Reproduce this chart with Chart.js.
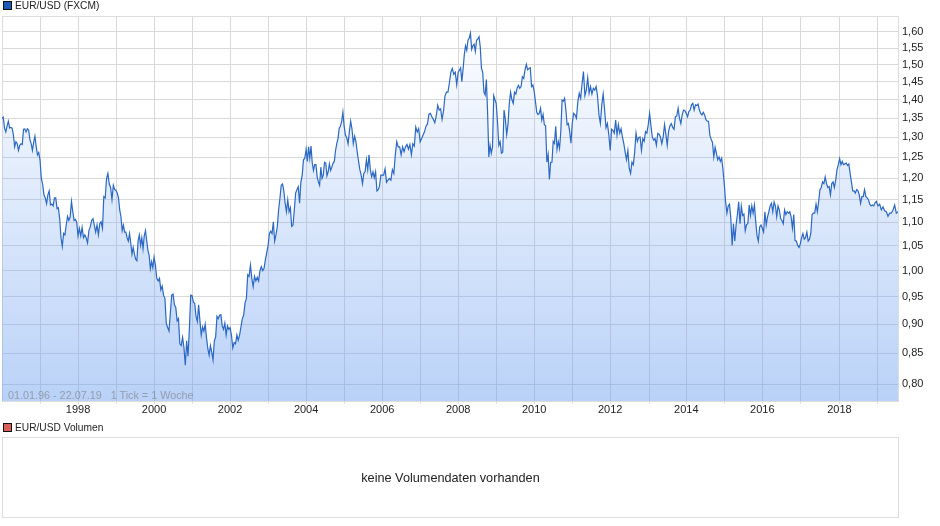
<!DOCTYPE html>
<html>
<head>
<meta charset="utf-8">
<title>EUR/USD</title>
<script src="https://cdn.jsdelivr.net/npm/chart.js@4"></script>
<style>
html, body { margin: 0; padding: 0; background: #fff; }
body { width: 940px; height: 526px; position: relative; overflow: hidden; font: 10.2px "Liberation Sans", Arial, sans-serif; color: #222; }
canvas { position: absolute; left: 0; top: 0; }
.legend { position: absolute; left: 3px; height: 12px; line-height: 12px; white-space: nowrap; }
.legend i { display: inline-block; width: 7px; height: 7px; border: 1px solid #111; margin-right: 3px; vertical-align: -0.5px; }
#range { position: absolute; left: 8px; top: 389px; font-size: 10.8px; color: rgba(120,120,120,.6); white-space: pre; line-height: 12px; }
#volume { position: absolute; left: 2px; top: 437px; width: 895px; height: 79px; border: 1px solid #ddd; text-align: center; line-height: 80px; font-size: 12.7px; }
</style>
</head>
<body>
<canvas id="chart" width="940" height="526"></canvas>
<div class="legend" style="top:0px"><i style="background:#1a5cb8"></i>EUR/USD (FXCM)</div>
<div id="range">01.01.96 - 22.07.19   1 Tick = 1 Woche</div>
<div class="legend" style="top:422px"><i style="background:#d9605a"></i>EUR/USD Volumen</div>
<div id="volume">keine Volumendaten vorhanden</div>
<script>
// weekly closes, one list per calendar year
const rate1996 = [1.35,1.353,1.324,1.314,1.329,1.342,1.324,1.326,1.324,1.306,1.276,1.289,1.284,1.267,1.28,1.284,1.282,1.321,1.322,1.314,1.322,1.319,1.295,1.284,1.267,1.288,1.303,1.276,1.256,1.262];
const rate1997 = [1.244,1.199,1.186,1.161,1.154,1.141,1.161,1.17,1.138,1.14,1.136,1.154,1.154,1.13,1.132,1.108,1.067,1.049,1.076,1.073,1.094,1.113,1.104,1.112,1.146,1.123,1.104,1.106,1.10];
const rate1998 = [1.071,1.087,1.071,1.089,1.067,1.073,1.067,1.056,1.082,1.09,1.104,1.108,1.094,1.079,1.094,1.073,1.097,1.101,1.087,1.157,1.154,1.199,1.211,1.186,1.178,1.15,1.183,1.173];
const rate1999 = [1.171,1.165,1.154,1.127,1.112,1.082,1.094,1.079,1.079,1.067,1.06,1.076,1.056,1.033,1.047,1.033,1.023,1.02,1.061,1.073,1.051,1.067,1.044,1.071,1.082,1.061,1.041,1.03,1.004,1.018,1.006];
const rate2000 = [1.027,1.011,.985,.98,.985,.963,.97,.953,.947,.902,.894,.888,.92,.953,.955,.935,.93,.906,.91,.866,.863,.877,.86,.83,.871,.845,.891,.953];
const rate2001 = [.952,.94,.938,.914,.905,.935,.906,.881,.895,.888,.9,.877,.858,.847,.863,.852,.839,.871,.878,.914,.91,.916,.917,.897,.891,.902,.881,.897,.891];
const rate2002 = [.894,.881,.859,.868,.866,.881,.872,.881,.895,.91,.916,.938,.947,.992,.989,1.011,.985,.969,.989,.98,.987,.98,1.0,1.008,1.0,1.004,1.022,1.036];
const rate2003 = [1.051,1.076,1.081,1.076,1.101,1.06,1.073,1.09,1.127,1.152,1.183,1.186,1.17,1.142,1.123,1.15,1.123,1.132,1.091,1.094,1.127,1.165,1.173,1.18,1.142,1.19,1.207,1.244,1.248];
const rate2004 = [1.27,1.24,1.276,1.248,1.278,1.236,1.218,1.232,1.232,1.203,1.191,1.183,1.226,1.199,1.207,1.238,1.236,1.205,1.215,1.234,1.218,1.226,1.236,1.24,1.267,1.284,1.297,1.324,1.329,1.342,1.366];
const rate2005 = [1.329,1.306,1.299,1.284,1.315,1.342,1.321,1.284,1.303,1.289,1.263,1.24,1.22,1.207,1.187,1.211,1.215,1.244,1.22,1.256,1.22,1.203,1.215,1.201,1.215,1.17,1.173,1.181,1.207];
const rate2006 = [1.207,1.207,1.222,1.19,1.195,1.199,1.195,1.22,1.211,1.256,1.289,1.276,1.276,1.256,1.276,1.264,1.276,1.282,1.27,1.282,1.256,1.284,1.278,1.327,1.314,1.323];
const rate2007 = [1.289,1.297,1.306,1.315,1.329,1.335,1.361,1.363,1.354,1.347,1.338,1.356,1.385,1.372,1.375,1.347,1.37,1.411,1.421,1.421,1.447,1.478,1.489,1.472,1.478,1.442];
const rate2008 = [1.478,1.484,1.491,1.451,1.487,1.53,1.557,1.543,1.574,1.58,1.596,1.546,1.557,1.562,1.54,1.574,1.578,1.585,1.554,1.489,1.478,1.421,1.413,1.457,1.365,1.251,1.28,1.26,1.276,1.411,1.4];
const rate2009 = [1.39,1.342,1.28,1.289,1.26,1.263,1.372,1.347,1.307,1.333,1.39,1.421,1.4,1.39,1.421,1.416,1.433,1.44,1.432,1.437,1.465,1.46,1.485,1.501,1.485,1.489,1.491,1.437,1.441];
const rate2010 = [1.423,1.395,1.366,1.36,1.363,1.377,1.345,1.36,1.333,1.33,1.238,1.257,1.197,1.238,1.238,1.29,1.285,1.329,1.27,1.289,1.272,1.315,1.399,1.396,1.404,1.372,1.333,1.336,1.315,1.285];
const rate2011 = [1.336,1.363,1.359,1.35,1.395,1.418,1.404,1.445,1.48,1.411,1.427,1.462,1.418,1.437,1.416,1.432,1.427,1.437,1.409,1.359,1.336,1.386,1.416,1.372,1.325,1.336,1.306];
const rate2012 = [1.267,1.321,1.318,1.311,1.345,1.306,1.333,1.311,1.322,1.301,1.284,1.263,1.244,1.267,1.223,1.211,1.238,1.232,1.263,1.311,1.29,1.3,1.301,1.267,1.297,1.29,1.315,1.311];
const rate2013 = [1.333,1.363,1.33,1.301,1.293,1.297,1.28,1.31,1.308,1.301,1.284,1.301,1.333,1.308,1.28,1.316,1.33,1.336,1.326,1.321,1.354,1.356,1.377,1.35,1.336,1.359,1.372,1.37];
const rate2014 = [1.363,1.354,1.368,1.372,1.386,1.39,1.372,1.386,1.384,1.388,1.372,1.363,1.359,1.366,1.359,1.346,1.342,1.342,1.306,1.295,1.287,1.251,1.275,1.26,1.244,1.251,1.24,1.248,1.22];
const rate2015 = [1.186,1.146,1.12,1.136,1.14,1.108,1.051,1.097,1.06,1.094,1.117,1.145,1.097,1.136,1.115,1.118,1.082,1.095,1.097,1.138,1.115,1.136,1.12,1.138,1.101,1.071,1.06,1.09,1.094];
const rate2016 = [1.087,1.079,1.123,1.094,1.112,1.123,1.136,1.142,1.123,1.145,1.136,1.112,1.136,1.127,1.108,1.104,1.097,1.127,1.117,1.123,1.12,1.123,1.112,1.087,1.117,1.061,1.06,1.051,1.047];
const rate2017 = [1.054,1.067,1.076,1.064,1.067,1.079,1.06,1.064,1.076,1.117,1.12,1.12,1.14,1.123,1.146,1.173,1.178,1.191,1.187,1.203,1.187,1.178,1.18,1.161,1.187,1.191,1.178,1.195,1.22];
const rate2018 = [1.232,1.247,1.232,1.24,1.232,1.234,1.236,1.23,1.234,1.211,1.191,1.17,1.17,1.165,1.173,1.17,1.161,1.142,1.157,1.157,1.173,1.157,1.154,1.15,1.14,1.136,1.138,1.136,1.143];
const rate2019 = [1.146,1.136,1.14,1.127,1.134,1.125,1.123,1.113,1.12,1.12,1.127,1.138,1.12,1.123];

const rateByYear = [rate1996,rate1997,rate1998,rate1999,rate2000,rate2001,rate2002,rate2003,rate2004,rate2005,rate2006,rate2007,rate2008,rate2009,rate2010,rate2011,rate2012,rate2013,rate2014,rate2015,rate2016,rate2017,rate2018,rate2019];
const firstYear = 1996;
const lastDate = 2019.57;
const yTicks = [0.80,0.85,0.90,0.95,1.00,1.05,1.10,1.15,1.20,1.25,1.30,1.35,1.40,1.45,1.50,1.55,1.60];
// first Monday of the year does not always fall on the same spot
const xTicks = [1997,1998,1999,2000,2001,2002,2003,2004,2005,2006,2007,2008,2009,2010,2011,2012,2013.03,2014,2015,2016,2017,2018.03,2019.03];

// spread each year's readings evenly over that year, last one runs up to the end date
var points = [];
rateByYear.forEach(function (list, i) {
    var start = firstYear + i;
    var last = i === rateByYear.length - 1;
    var span = last ? lastDate - start : 1;
    list.forEach(function (v, k) {
        points.push({x: start + span * k / (last ? list.length - 1 : list.length), y: v});
    });
});

const frame = {
    id: 'frame',
    beforeDatasetsDraw(chart) {
        var a = chart.chartArea, c = chart.ctx;
        c.save();
        c.strokeStyle = '#ddd';
        c.lineWidth = 1;
        c.strokeRect(a.left + 0.5, a.top + 0.5, a.width, a.height);
        c.restore();
    }
};

new Chart(document.getElementById('chart'), {
    type: 'line',
    data: {
        datasets: [{
            data: points,
            borderColor: '#2b68c4',
            borderWidth: 1.2,
            pointRadius: 0,
            tension: 0,
            fill: 'start',
            backgroundColor: function (ctx) {
                var a = ctx.chart.chartArea;
                if (!a) return 'transparent';
                var g = ctx.chart.ctx.createLinearGradient(0, a.top, 0, a.bottom);
                g.addColorStop(0, 'rgba(110,160,240,0)');
                g.addColorStop(1, 'rgba(110,160,240,0.48)');
                return g;
            }
        }]
    },
    options: {
        responsive: false,
        animation: false,
        layout: {padding: {left: 2, top: 16, right: 0, bottom: 0}},
        plugins: {legend: {display: false}, tooltip: {enabled: false}},
        scales: {
            x: {
                type: 'linear',
                min: firstYear,
                max: lastDate,
                afterBuildTicks(s) { s.ticks = xTicks.map(function (v) { return {value: v}; }); },
                afterFit(s) { s.height = 125; },
                grid: {color: '#d9d9d9', tickLength: 3, tickColor: '#ddd'},
                border: {display: false},
                ticks: {
                    autoSkip: false, maxRotation: 0, padding: -1,
                    color: '#222', font: {family: '"Liberation Sans"', size: 11},
                    callback: function (v) { var y = Math.floor(v); return y % 2 === 0 ? String(y) : ''; }
                }
            },
            y: {
                type: 'logarithmic',
                position: 'right',
                min: 0.7737,
                max: 1.651,
                afterBuildTicks(s) { s.ticks = yTicks.map(function (v) { return {value: v}; }); },
                afterFit(s) { s.width = 42; },
                grid: {color: '#d9d9d9', tickLength: 3, tickColor: 'transparent'},
                border: {display: false},
                ticks: {
                    autoSkip: false, padding: 1,
                    color: '#222', font: {family: '"Liberation Sans"', size: 11},
                    callback: function (v) { return v.toFixed(2).replace('.', ','); }
                }
            }
        }
    },
    plugins: [frame]
});
</script>
</body>
</html>
